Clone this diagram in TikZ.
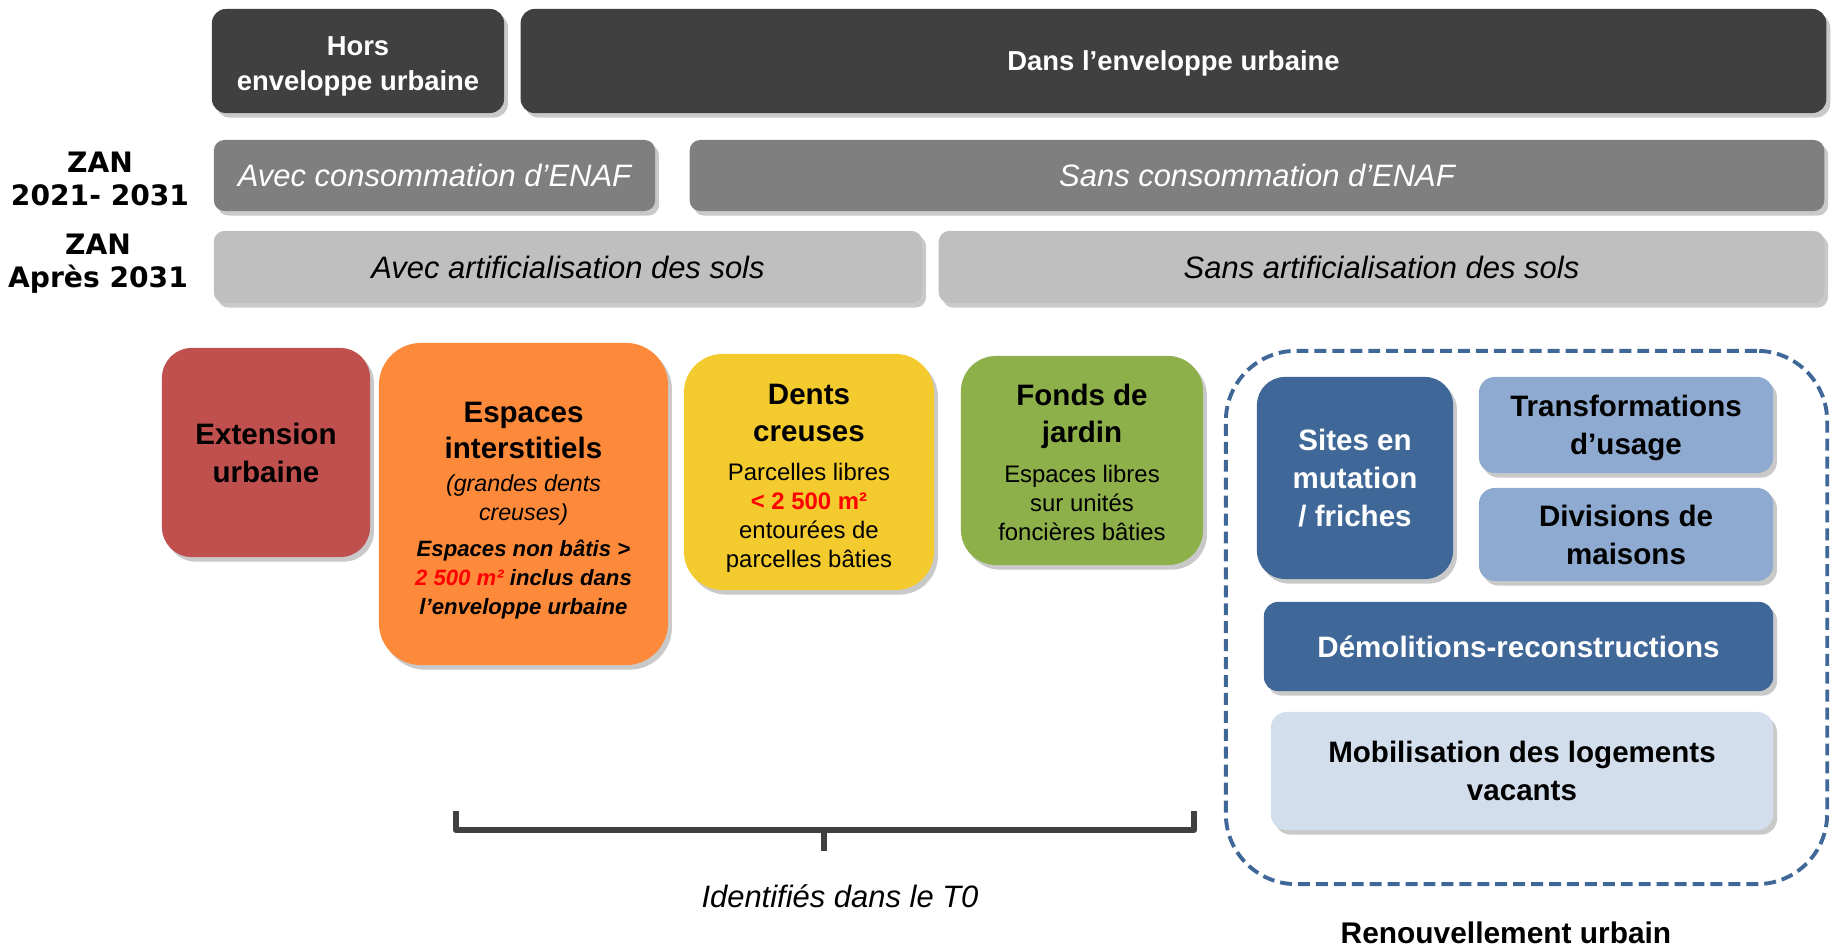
\documentclass[tikz,border=0pt]{standalone}
\usepackage{fontspec}
\setmainfont{Liberation Sans}
\newfontfamily\zanfont{DejaVu Sans}
\usetikzlibrary{shadows}
\usepackage{xcolor}

\definecolor{bardark}{RGB}{64,64,64}
\definecolor{barmid}{RGB}{127,127,127}
\definecolor{barlight}{RGB}{191,191,191}
\definecolor{extred}{RGB}{192,80,77}
\definecolor{interorange}{RGB}{253,138,58}
\definecolor{dentyellow}{RGB}{244,203,47}
\definecolor{fondgreen}{RGB}{141,176,74}
\definecolor{renblue}{RGB}{63,103,151}
\definecolor{renlight}{RGB}{142,170,208}
\definecolor{renpale}{RGB}{210,222,235}
\definecolor{surfred}{RGB}{255,0,0}

\newcommand{\bartext}{\fontsize{7.8}{10}\selectfont\bfseries\lineskiplimit=-50pt}
\newcommand{\rowtext}{\fontsize{8.8}{10.5}\selectfont\itshape}
\newcommand{\cattitle}{\fontsize{8.4}{10.8}\selectfont\bfseries\lineskiplimit=-50pt}
\newcommand{\catsub}{\fontsize{6.8}{8.25}\selectfont\lineskiplimit=-50pt}
\newcommand{\catsmall}{\fontsize{6.3}{8.25}\selectfont\bfseries\itshape}
\newcommand{\toplift}[1]{\rule{0pt}{#1}}

\tikzset{
  shade box/.style={drop shadow={shadow xshift=1.1pt, shadow yshift=-1.3pt, opacity=0.3, fill=black!70}},
  topbar/.style={fill=bardark, text=white, rounded corners=4pt, font=\bartext, align=center, inner sep=0pt, shade box},
  enafbar/.style={fill=barmid, text=white, rounded corners=3pt, font=\rowtext, inner sep=0pt, shade box},
  solbar/.style={fill=barlight, text=black, rounded corners=3pt, font=\rowtext, inner sep=0pt, shade box},
  catbox/.style={rounded corners=#1, align=center, inner sep=0pt, shade box},
  catbox/.default=10pt,
  zanlabel/.style={font=\zanfont\bfseries\fontsize{8}{9.4}\selectfont, align=center, inner sep=0pt},
  renouvframe/.style={draw=renblue, line width=1.1pt, dash pattern=on 3.4pt off 1.7pt, rounded corners=20pt, inner sep=0pt},
  bracketline/.style={draw=bardark, line width=1.8pt, line join=round}
}

\begin{document}
\begin{tikzpicture}[x=0.01cm, y=-0.01cm]
\useasboundingbox (0,0) rectangle (1835,952);

% enveloppe urbaine
\node (hors) [topbar, minimum width=2.92cm, minimum height=1.04cm] at (358,61) {\toplift{8.4pt}Hors\\enveloppe urbaine};
\node (dans) [topbar, minimum width=13.05cm, minimum height=1.04cm] at (1173.5,61) {\toplift{6.8pt}Dans l’enveloppe urbaine};

% ZAN rows
\node (zanA) [zanlabel] at (100,178.5) {ZAN\\2021- 2031};
\node (zanB) [zanlabel] at (98,264) {ZAN\\Après 2031};

\node (avecenaf) [enafbar, minimum width=4.41cm, minimum height=0.71cm] at (434.5,175.5) {Avec consommation d’ENAF};
\node (sansenaf) [enafbar, minimum width=11.34cm, minimum height=0.71cm] at (1257,175.5) {Sans consommation d’ENAF};

\node (avecsols) [solbar, minimum width=7.08cm, minimum height=0.72cm] at (568,267) {Avec artificialisation des sols};
\node (sanssols) [solbar, minimum width=8.85cm, minimum height=0.72cm] at (1381.5,267) {Sans artificialisation des sols};

% gisements
\node (extension) [catbox=8.5pt, fill=extred, minimum width=2.08cm, minimum height=2.09cm, font=\cattitle] at (266,452.5) {Extension\\urbaine};

\node (inter) [catbox=12pt, fill=interorange, minimum width=2.89cm, minimum height=3.22cm, font=\catsub] at (523.5,504)
  {{\cattitle\toplift{9.4pt}Espaces}\\[2pt]
   {\cattitle interstitiels}\\[1.2pt]
   {\fontsize{6.6}{8.25}\selectfont\itshape (grandes dents}\\
   {\fontsize{6.6}{8.25}\selectfont\itshape creuses)}\\[1.8pt]
   {\catsmall Espaces non bâtis >}\\
   {\catsmall {\color{surfred}2 500 m²} inclus dans}\\
   {\catsmall l’enveloppe urbaine}};

\node (dents) [catbox=11pt, fill=dentyellow, minimum width=2.50cm, minimum height=2.36cm, font=\catsub] at (809,472)
  {{\cattitle\toplift{9.4pt}Dents}\\[2.3pt]
   {\cattitle creuses}\\[2.7pt]
   Parcelles libres\\
   {\bfseries\color{surfred}< 2 500 m²}\\
   entourées de\\
   parcelles bâties};

\node (fonds) [catbox=10pt, fill=fondgreen, minimum width=2.42cm, minimum height=2.09cm, font=\catsub] at (1082,460.5)
  {{\cattitle\toplift{7.3pt}Fonds de}\\[2.3pt]
   {\cattitle jardin}\\[3.2pt]
   Espaces libres\\
   sur unités\\
   foncières bâties};

% renouvellement urbain
\node (renouv) [renouvframe, minimum width=6.01cm, minimum height=5.33cm] at (1526.5,617.5) {};

\node (sites) [catbox=8pt, fill=renblue, text=white, minimum width=1.96cm, minimum height=2.02cm, font=\cattitle] at (1355,478) {Sites en\\mutation\\/ friches};
\node (transfo) [catbox=4.5pt, fill=renlight, minimum width=2.94cm, minimum height=0.96cm, font=\cattitle] at (1626,425) {\toplift{7.9pt}Transformations\\d’usage};
\node (divisions) [catbox=4.5pt, fill=renlight, minimum width=2.94cm, minimum height=0.93cm, font=\cattitle] at (1626,534.5) {Divisions de\\maisons};
\node (demol) [catbox=4pt, fill=renblue, text=white, minimum width=5.09cm, minimum height=0.89cm, font=\cattitle] at (1518.5,646.5) {Démolitions-reconstructions};
\node (mobil) [catbox=4.5pt, fill=renpale, minimum width=5.02cm, minimum height=1.18cm, font=\cattitle] at (1522,771) {Mobilisation des logements\\vacants};

% accolade T0
\coordinate (tzeroL) at (456,811);
\coordinate (tzeroR) at (1194,811);
\coordinate (tzeroM) at (824,830);
\draw[bracketline] (tzeroL) -- (tzeroL |- tzeroM) -- (tzeroR |- tzeroM) -- (tzeroR);
\draw[bracketline] (tzeroM) -- ++(0,21);

% nodes
\node (tzero) [font=\rowtext] at (840,896) {Identifiés dans le T0};
\node (renouvlabel) [font=\fontsize{8.5}{10}\selectfont\bfseries] at (1506,933) {Renouvellement urbain};

\end{tikzpicture}
\end{document}
